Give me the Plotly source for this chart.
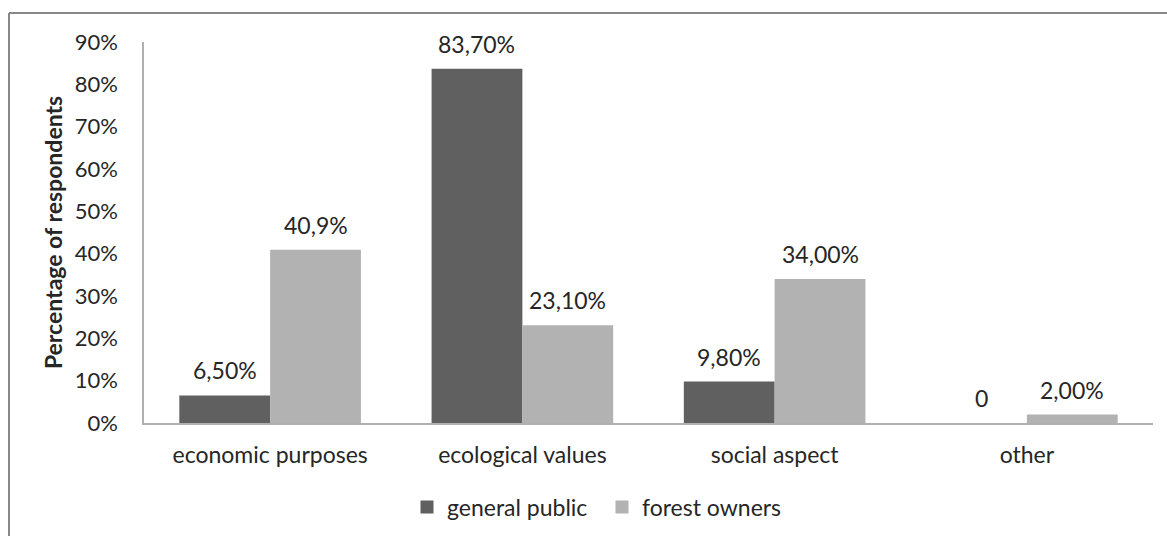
import plotly.graph_objects as go

categories = ["economic purposes", "ecological values", "social aspect", "other"]
general_public = [6.5, 83.7, 9.8, 0]
forest_owners = [40.9, 23.1, 34.0, 2.0]
general_public_labels = ["6,50%", "83,70%", "9,80%", "0"]
forest_owners_labels = ["40,9%", "23,10%", "34,00%", "2,00%"]
y_ticks = [0, 10, 20, 30, 40, 50, 60, 70, 80, 90]
y_tick_labels = [f"{v}%" for v in y_ticks]

FONT = "Lato, 'Open Sans', sans-serif"
FS = 23
FS_TICK = 22
TXT = "#262626"
DARK, LIGHT = "#606060", "#b2b2b2"
W, H = 1167, 536
ML, MR, MT, MB = 144, 14, 42, 113
PW, PH = W - ML - MR, H - MT - MB
BARGAP = 0.28
BAR_W = PW / len(categories) * (1 - BARGAP) / 2

fig = go.Figure()
fig.add_bar(x=categories, y=general_public, name="general public",
            marker=dict(color=DARK, line=dict(width=0)), showlegend=False)
fig.add_bar(x=categories, y=forest_owners, name="forest owners",
            marker=dict(color=LIGHT, line=dict(width=0)), showlegend=False)
# legend entries
fig.add_scatter(x=[None], y=[None], mode="markers", name="general public",
                marker=dict(symbol="square", size=13, color=DARK))
fig.add_scatter(x=[None], y=[None], mode="markers", name="forest owners",
                marker=dict(symbol="square", size=13, color=LIGHT))

annotations = []
for cat, v, t in zip(categories, general_public, general_public_labels):
    annotations.append(dict(x=cat, y=v, text=t, showarrow=False, xshift=-BAR_W / 2,
                            yanchor="bottom", yshift=9, font=dict(size=FS, color=TXT)))
for cat, v, t in zip(categories, forest_owners, forest_owners_labels):
    annotations.append(dict(x=cat, y=v, text=t, showarrow=False, xshift=BAR_W / 2,
                            yanchor="bottom", yshift=9, font=dict(size=FS, color=TXT)))

def px_x(p):
    return (p - ML) / PW

def px_y(p):
    return (H - MB - p) / PH

fig.update_layout(
    width=W, height=H,
    margin=dict(l=ML, r=MR, t=MT, b=MB, autoexpand=False),
    paper_bgcolor="white", plot_bgcolor="white",
    font=dict(family=FONT, size=FS, color=TXT),
    barmode="group", bargap=BARGAP, bargroupgap=0,
    showlegend=True,
    annotations=annotations,
    legend=dict(orientation="h", x=px_x(407), xanchor="left", y=px_y(507), yanchor="middle",
                font=dict(size=FS), itemsizing="trace", traceorder="normal",
                itemwidth=30, entrywidth=150, entrywidthmode="pixels"),
    xaxis=dict(showline=True, linecolor="#b0b0b0", linewidth=1.5, ticks="", automargin=False,
               showgrid=False, tickfont=dict(size=FS), ticklabelstandoff=11),
    yaxis=dict(range=[0, 90], tickvals=y_ticks, ticktext=y_tick_labels, automargin=False,
               showline=True, linecolor="#b0b0b0", linewidth=1.5, showgrid=False,
               zeroline=False, ticks="", ticklabelstandoff=20, tickfont=dict(size=FS_TICK),
               title=dict(text="<b>Percentage of respondents</b>", font=dict(size=FS),
                          standoff=6)),
    shapes=[
        dict(type="line", xref="paper", yref="paper", x0=px_x(9), x1=px_x(W), y0=px_y(13), y1=px_y(13),
             line=dict(color="#888888", width=2)),
        dict(type="line", xref="paper", yref="paper", x0=px_x(9), x1=px_x(9), y0=px_y(13), y1=px_y(H + 20),
             line=dict(color="#888888", width=2)),
    ],
)

post = (
    "var s=document.documentElement.style;s.margin='0';s.padding='0';s.overflow='hidden';"
    "var b=document.body.style;b.margin='0';b.padding='0';b.overflow='hidden';"
)
fig.write_html("out.html", config={"displayModeBar": False}, post_script=post)
